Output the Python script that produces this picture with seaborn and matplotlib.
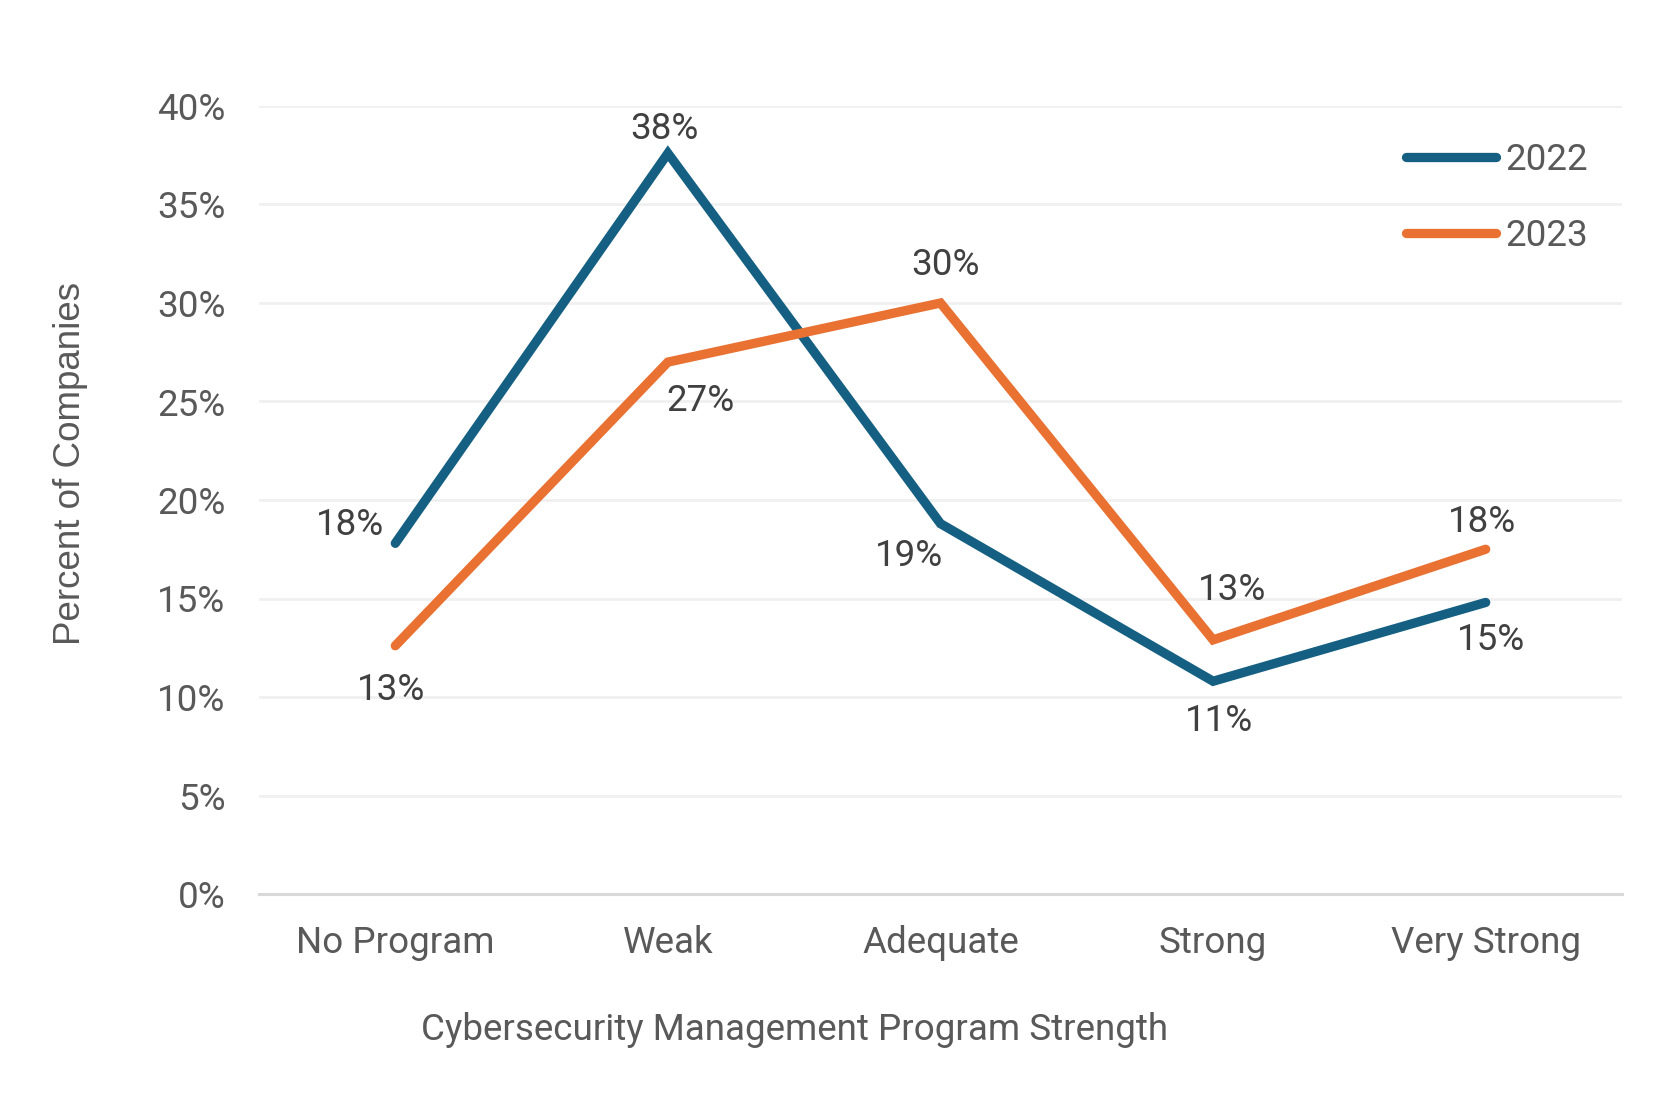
import matplotlib
matplotlib.use("Agg")
import matplotlib.pyplot as plt
import seaborn as sns
import pandas as pd
from matplotlib.ticker import FuncFormatter

categories = ["No Program", "Weak", "Adequate", "Strong", "Very Strong"]
years = ["2022", "2023"]
values_2022 = [17.8, 37.6, 18.8, 10.8, 14.8]
values_2023 = [12.6, 27.0, 30.0, 12.9, 17.5]
labels_2022 = ["18%", "38%", "19%", "11%", "15%"]
labels_2023 = ["13%", "27%", "30%", "13%", "18%"]
y_ticks = [0, 5, 10, 15, 20, 25, 30, 35, 40]

# label offsets in pixels (styling)
offs_2022 = [(-45, 18), (-3, 24), (-31, -32), (6, -40), (5, -38)]
offs_2023 = [(-4, -44), (33, -39), (5, 38), (19, 50), (-4, 27)]

df = pd.DataFrame({
    "Strength": categories * 2,
    "Value": values_2022 + values_2023,
    "Year": [years[0]] * 5 + [years[1]] * 5,
})

sns.set_theme(style="white")
plt.rcParams["font.family"] = ["Roboto", "DejaVu Sans"]

FS = 26.5
fig = plt.figure(figsize=(16.73, 10.97), dpi=100)
ax = fig.add_axes([259 / 1673, 1 - 894 / 1097, (1622 - 259) / 1673, (894 - 106) / 1097])

palette = {"2022": "#156082", "2023": "#E97132"}
sns.lineplot(data=df, x="Strength", y="Value", hue="Year", palette=palette,
             linewidth=6.7, ax=ax, sort=False, legend=True,
             solid_capstyle="round", solid_joinstyle="miter")

ax.set_ylim(0, 40)
ax.set_xlim(-0.5, 4.5)
ax.set_yticks(y_ticks)
ax.yaxis.set_major_formatter(FuncFormatter(lambda v, p: f"{int(v)}%"))
ax.grid(axis="y", color="#F0F0F0", linewidth=2)
ax.set_axisbelow(True)
for s in ["top", "right", "left"]:
    ax.spines[s].set_visible(False)
ax.spines["bottom"].set_color("#D9D9D9")
ax.spines["bottom"].set_linewidth(2.2)

ax.tick_params(axis="y", length=0, pad=24, labelsize=FS, labelcolor="#595959")
ax.tick_params(axis="x", length=0, pad=22.5, labelsize=FS, labelcolor="#595959")

ax.set_xlabel("Cybersecurity Management Program Strength", fontsize=FS, color="#595959", va="center")
ax.xaxis.set_label_coords(0.393, -0.1726)
ax.set_ylabel("Percent of Companies", fontsize=FS, color="#595959",
              family=["Liberation Sans"], va="center")
ax.yaxis.set_label_coords(-0.1385, 0.546)

for vals, labs, offs in [(values_2022, labels_2022, offs_2022), (values_2023, labels_2023, offs_2023)]:
    for i, (v, lab, o) in enumerate(zip(vals, labs, offs)):
        ax.annotate(lab, (i, v), xytext=o, textcoords="offset pixels",
                    ha="center", va="center", fontsize=FS, color="#404040")

leg = ax.legend(loc="upper left", bbox_to_anchor=(1406 / 1673, 1 - 142 / 1097),
                bbox_transform=fig.transFigure, frameon=False, fontsize=FS,
                handlelength=2.45, handletextpad=0.25, labelspacing=1.09,
                borderpad=0, borderaxespad=0)
for t in leg.get_texts():
    t.set_color("#595959")
for h in leg.get_lines():
    h.set_linewidth(6.7)
    h.set_solid_capstyle("round")

fig.savefig("out.png", dpi=100)
